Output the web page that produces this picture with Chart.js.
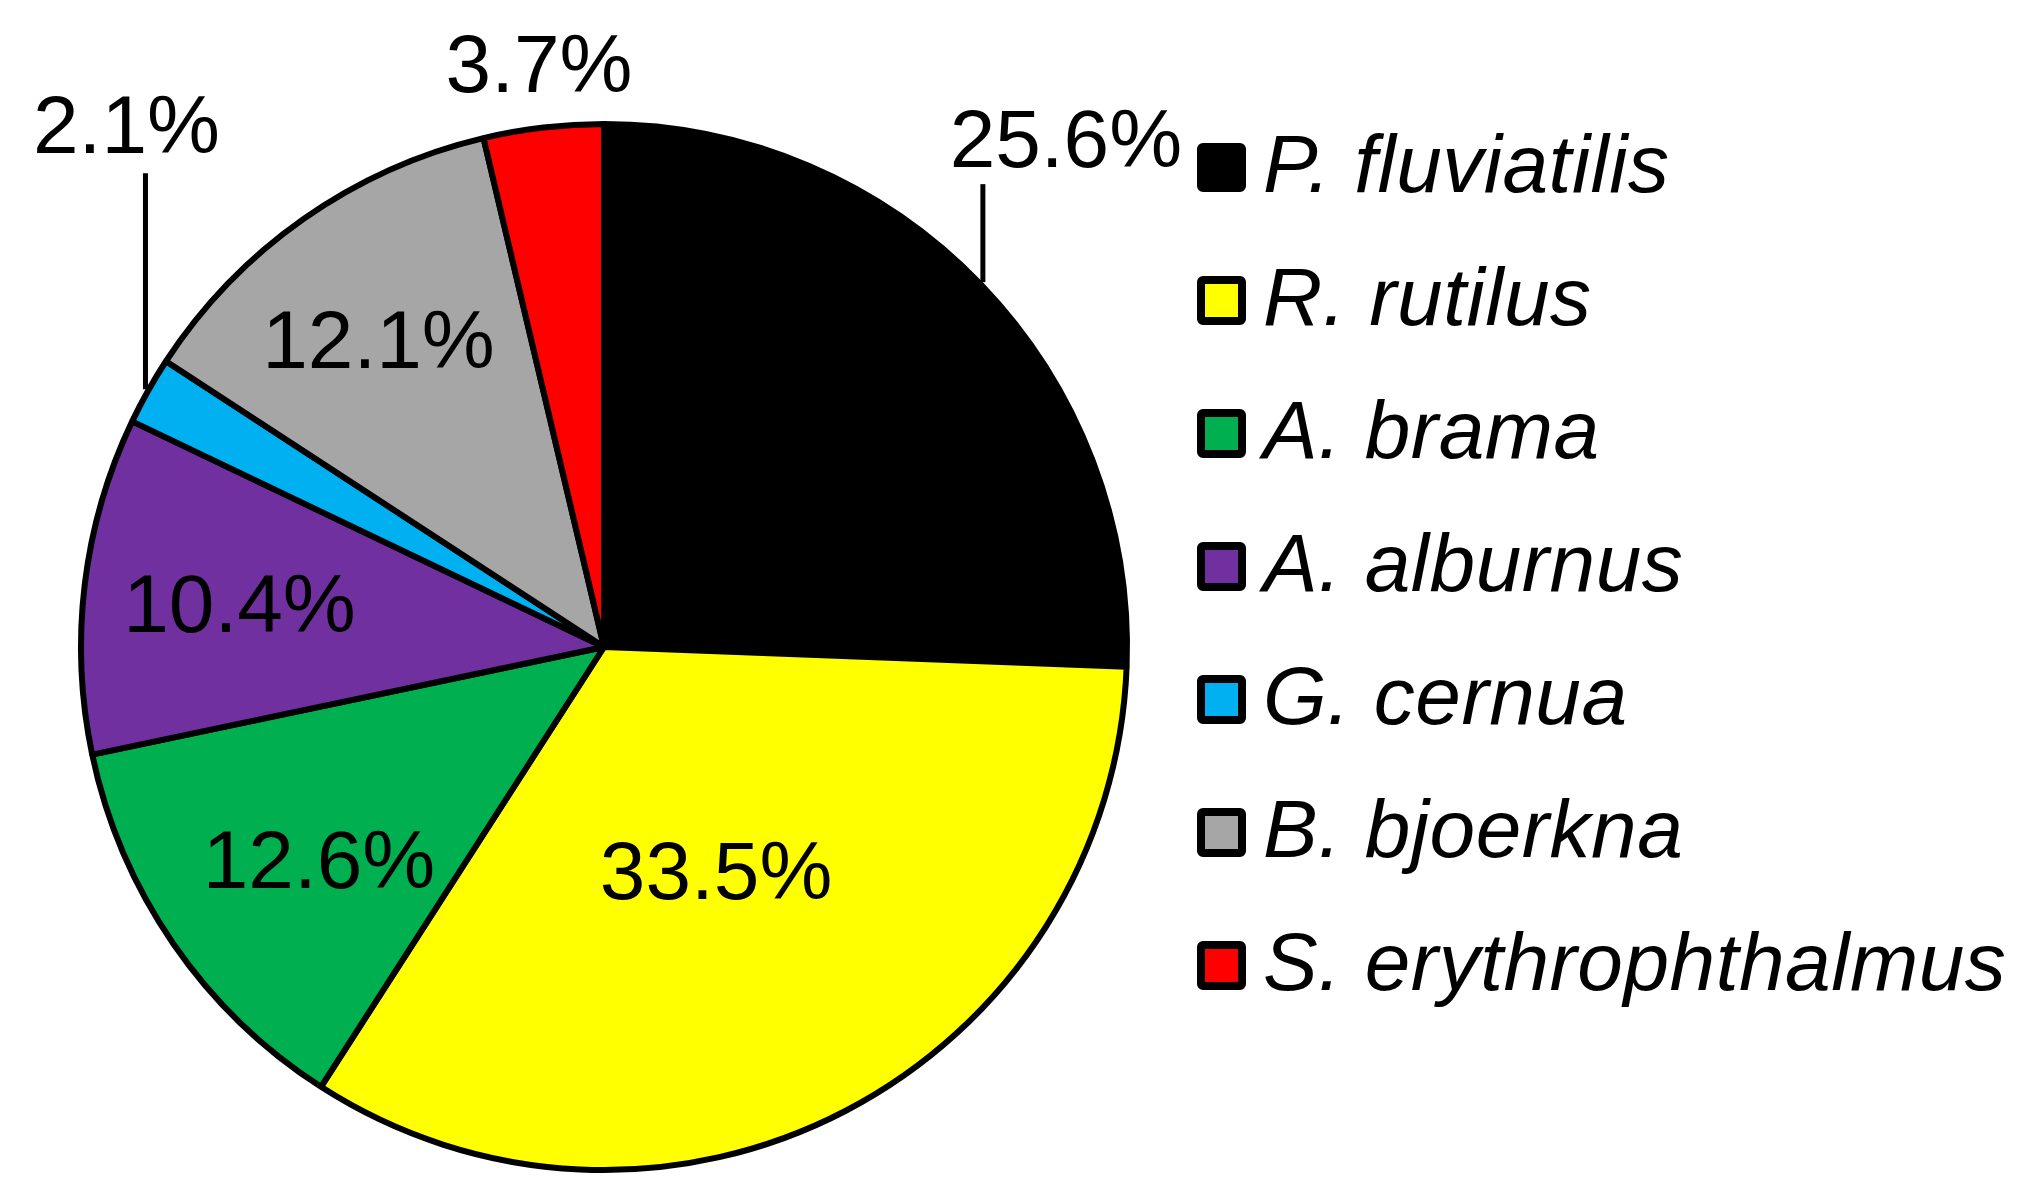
<!DOCTYPE html>
<html>
<head>
<meta charset="utf-8">
<title>Species share</title>
<script src="https://cdn.jsdelivr.net/npm/chart.js@4"></script>
<style>
  html, body { margin: 0; padding: 0; background: #fff; }
  canvas { display: block; }
</style>
</head>
<body>
<canvas id="species-pie" width="2027" height="1196"></canvas>
<script>
// Data
const species = ['P. fluviatilis', 'R. rutilus', 'A. brama', 'A. alburnus', 'G. cernua', 'B. bjoerkna', 'S. erythrophthalmus'];
const shares = [25.6, 33.5, 12.6, 10.4, 2.1, 12.1, 3.7];

// Styles
const sliceColors = ['#000000', '#FFFF00', '#00B050', '#7030A0', '#00B0F0', '#A6A6A6', '#FF0000'];
const FONT = "'Liberation Sans', Arial, sans-serif";

// where each percentage label sits: inside (fraction of radius + nudge) or above the rim with a leader
const labelLayout = [
    { type: 'out', line: 98, dx: 83, gap: 17 },
    { type: 'in', r: 0.48, dx: -4, dy: 0 },
    { type: 'in', r: 0.685, dx: 10, dy: 9 },
    { type: 'in', r: 0.70, dx: -1, dy: 0 },
    { type: 'out', line: 216, dx: -19, gap: 20 },
    { type: 'in', r: 0.72, dx: -9, dy: 0 },
    { type: 'out', line: 0, dx: -4, gap: 33 }
];

const sliceLabels = {
    id: 'sliceLabels',
    afterDatasetsDraw(chart) {
        const ctx = chart.ctx;
        const meta = chart.getDatasetMeta(0);
        ctx.save();
        ctx.font = '82px ' + FONT;
        ctx.fillStyle = '#000';
        ctx.textAlign = 'center';
        ctx.textBaseline = 'alphabetic';
        meta.data.forEach((arc, i) => {
            const p = arc.getProps(['x', 'y', 'startAngle', 'endAngle', 'outerRadius'], true);
            const mid = (p.startAngle + p.endAngle) / 2;
            const text = shares[i].toFixed(1) + '%';
            const lay = labelLayout[i];
            if (lay.type === 'in') {
                const d = p.outerRadius * lay.r;
                ctx.fillText(text, p.x + Math.cos(mid) * d + lay.dx, p.y + Math.sin(mid) * d + 29 + lay.dy);
            } else {
                const rr = p.outerRadius + 3;
                const ax = p.x + Math.cos(mid) * rr;
                const ay = p.y + Math.sin(mid) * rr;
                const top = ay - lay.line;
                if (lay.line > 0) {
                    ctx.beginPath();
                    ctx.moveTo(ax, ay);
                    ctx.lineTo(ax, top);
                    ctx.lineWidth = 5;
                    ctx.strokeStyle = '#000';
                    ctx.stroke();
                }
                ctx.fillText(text, ax + lay.dx, top - lay.gap);
            }
        });
        ctx.restore();
    }
};

const sideLegend = {
    id: 'sideLegend',
    afterDraw(chart) {
        const ctx = chart.ctx;
        ctx.save();
        species.forEach((name, i) => {
            const x = 1197, y = 143 + i * 133, s = 49;
            ctx.beginPath();
            ctx.roundRect(x + 4, y + 4, s - 8, s - 8, 2);
            ctx.fillStyle = sliceColors[i];
            ctx.fill();
            ctx.lineWidth = 8;
            ctx.strokeStyle = '#000';
            ctx.stroke();
            ctx.font = 'italic 82px ' + FONT;
            ctx.letterSpacing = '0.5px';
            ctx.fillStyle = '#000';
            ctx.textAlign = 'left';
            ctx.textBaseline = 'alphabetic';
            ctx.fillText(name, 1263, y + s);
        });
        ctx.restore();
    }
};

const pieCtx = document.getElementById('species-pie').getContext('2d');
new Chart(pieCtx, {
    type: 'pie',
    data: {
        labels: species,
        datasets: [{
            data: shares,
            backgroundColor: sliceColors,
            borderColor: '#000',
            borderWidth: 6,
            hoverOffset: 0,
            hoverBorderWidth: 6
        }]
    },
    options: {
        responsive: false,
        animation: false,
        events: [],
        layout: { padding: { left: 78, top: 121, right: 897, bottom: 23 } },
        plugins: {
            legend: { display: false },
            tooltip: { enabled: false }
        }
    },
    plugins: [sliceLabels, sideLegend]
});
</script>
</body>
</html>
